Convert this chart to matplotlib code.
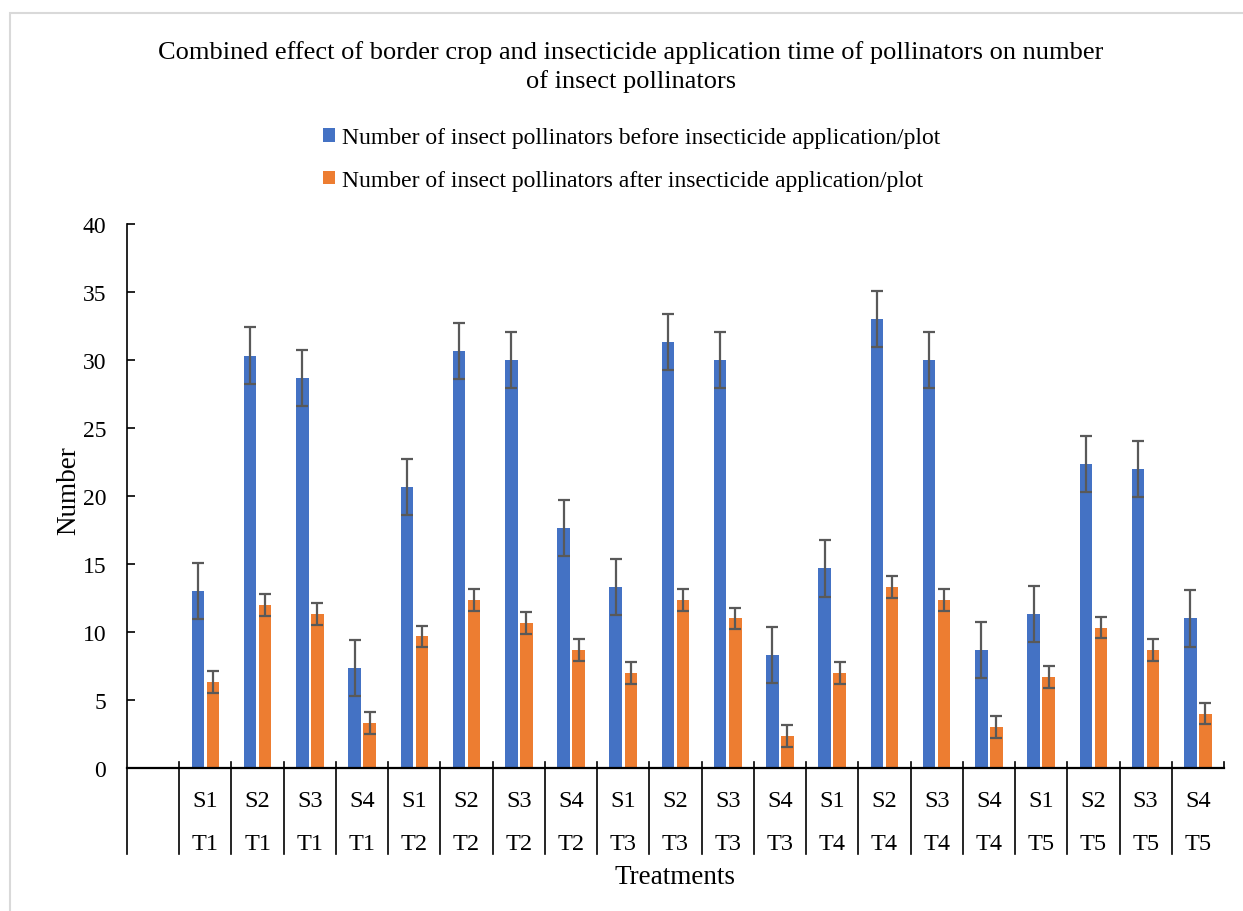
import matplotlib
matplotlib.use("Agg")
import matplotlib.pyplot as plt
import matplotlib.transforms as mtransforms
from matplotlib.patches import Rectangle
import numpy as np

plt.rcParams['font.family'] = ['Liberation Serif', 'DejaVu Serif']

s_labels = ["S1", "S2", "S3", "S4"] * 5
t_labels = ["T1"] * 4 + ["T2"] * 4 + ["T3"] * 4 + ["T4"] * 4 + ["T5"] * 4
before = [13.0, 30.33, 28.67, 7.33, 20.67, 30.67, 30.0, 17.67, 13.33, 31.33,
          30.0, 8.33, 14.67, 33.0, 30.0, 8.67, 11.33, 22.33, 22.0, 11.0]
after = [6.33, 12.0, 11.33, 3.33, 9.67, 12.33, 10.67, 8.67, 7.0, 12.33,
         11.0, 2.33, 7.0, 13.33, 12.33, 3.0, 6.67, 10.33, 8.67, 4.0]
err_before = [2.07] * 20
err_after = [0.8] * 20
series_names = ["Number of insect pollinators before insecticide application/plot",
                "Number of insect pollinators after insecticide application/plot"]
title = ("Combined effect of border crop and insecticide application time of pollinators on number\n"
         "of insect pollinators")

W, H = 1243, 912
fig = plt.figure(figsize=(W / 100, H / 100), dpi=100)
fig.patch.set_facecolor("white")
# outer light frame
fig.add_artist(Rectangle((10 / W, -0.01), 1.02, 1 - 14 / H + 0.01, transform=fig.transFigure,
                         fill=False, edgecolor="#d9d9d9", linewidth=1.5))

ax = fig.add_axes([127 / W, 1 - 769 / H, (1224 - 127) / W, (769 - 225) / H])

n = len(before)
x = np.arange(1, n + 1)
bw = 0.24
off = 0.144
blue = "#4472C4"
orange = "#ED7D31"
ecol = "#595959"
ekw = dict(ecolor=ecol, elinewidth=1.6, capsize=4.4, capthick=1.6)
b1 = ax.bar(x - off, before, bw, color=blue, yerr=err_before, error_kw=ekw, label=series_names[0], zorder=2)
b2 = ax.bar(x + off, after, bw, color=orange, yerr=err_after, error_kw=ekw, label=series_names[1], zorder=2)

ax.set_xlim(-0.5, n + 0.5)
ax.set_ylim(0, 40)
ax.set_yticks(np.arange(0, 41, 5))
ax.tick_params(axis="y", direction="in", length=6, width=1.2, labelsize=17, pad=15)
ax.set_xticks([])
for sp in ["top", "right"]:
    ax.spines[sp].set_visible(False)
ax.spines["left"].set_linewidth(1.2)
ax.spines["bottom"].set_linewidth(1.6)

# multi-level category axis
trans = mtransforms.blended_transform_factory(ax.transData, ax.transAxes)
ah = 769 - 225
y_bot = -(855 - 769) / ah
y_top = 6 / ah
for b in np.arange(-0.5, n + 1.0, 1.0):
    ax.plot([b, b], [y_bot if b < n else 0, y_top if b > -0.5 else 0], transform=trans,
            color="black", linewidth=1.2, clip_on=False)
y_s = -(802 - 769) / ah
y_t = -(845 - 769) / ah
for xi, s, t in zip(x, s_labels, t_labels):
    ax.text(xi, y_s, s, transform=trans, ha="center", va="center", fontsize=17.5)
    ax.text(xi, y_t, t, transform=trans, ha="center", va="center", fontsize=17.5)

fig.text(675 / W, 1 - 878 / H, "Treatments", ha="center", va="center", fontsize=19.5)
fig.text(69 / W, 1 - 491 / H, "Number", ha="center", va="center", rotation=90, fontsize=19.5)
fig.text(631 / W, 1 - 67 / H, title, ha="center", va="center", fontsize=19, linespacing=1.35)

fig.legend(handles=[b1, b2], labels=series_names, loc="center", bbox_to_anchor=(632 / W, 1 - 160 / H),
           frameon=False, fontsize=17, handlelength=0.5, handleheight=0.5, handletextpad=0.3,
           labelspacing=0.9)

fig.savefig("out.png", dpi=100, facecolor="white")
